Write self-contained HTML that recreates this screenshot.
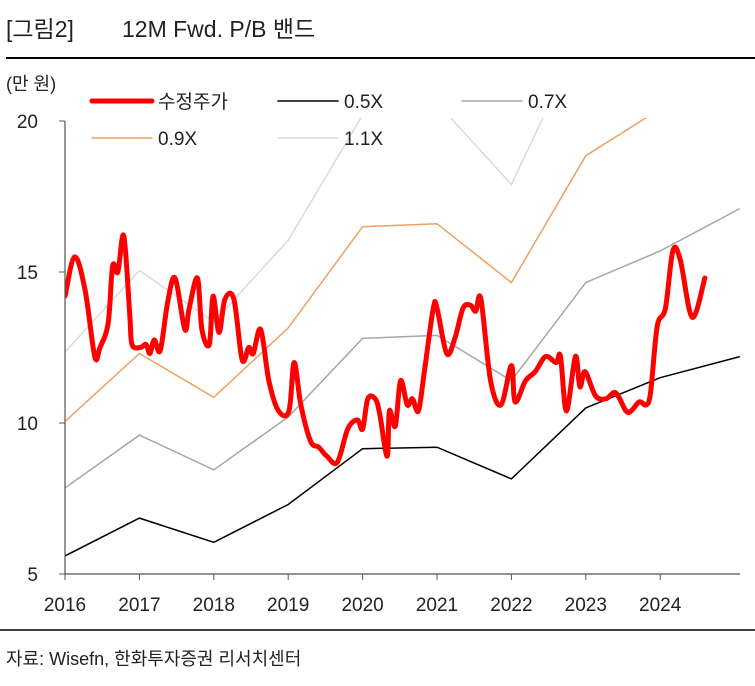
<!DOCTYPE html>
<html><head><meta charset="utf-8"><style>
body{margin:0;background:#fff;width:755px;height:681px;overflow:hidden;font-family:"Liberation Sans","Noto Sans CJK KR",sans-serif}
svg text{font-family:"Liberation Sans","Noto Sans CJK KR",sans-serif}
</style></head><body>
<svg id="c" width="755" height="681">
<text x="6" y="37" font-size="23" fill="#222">[그림2]</text>
<text x="122" y="37" font-size="23" fill="#222">12M Fwd. P/B 밴드</text>
<line x1="6" y1="58" x2="755" y2="58" stroke="#000" stroke-width="2"/>
<text x="6" y="90" font-size="18" fill="#222">(만 원)</text>
<line x1="0" y1="630" x2="755" y2="630" stroke="#000" stroke-width="1.5"/>
<text x="6" y="665" font-size="18" fill="#222">자료: Wisefn, 한화투자증권 리서치센터</text>
<defs><clipPath id="pc"><rect x="65" y="118" width="690" height="460"/></clipPath></defs>
<g id="bands" clip-path="url(#pc)"></g>
<g id="axes"></g>
<g id="legend"></g>
</svg>
<script>
const bandYears=[2016,2017,2018,2019,2020,2021,2022,2023,2024,2025.07];
const band05=[5.6,6.85,6.05,7.3,9.15,9.2,8.15,10.5,11.5,12.2];
const band07=[7.85,9.6,8.45,10.2,12.8,12.9,11.4,14.65,15.7,17.1];
const band09=[10.05,12.3,10.85,13.15,16.5,16.6,14.65,18.85,20.4,21.9];
const band11=[12.35,15.05,13.35,16.05,20.2,20.6,17.9,23.1,25,26.5];
const priceYears=[2016,2016.13,2016.27,2016.4,2016.47,2016.58,2016.64,2016.71,2016.79,2016.87,2016.9,2017.01,2017.09,2017.14,2017.2,2017.28,2017.38,2017.48,2017.61,2017.67,2017.78,2017.84,2017.94,2017.99,2018.07,2018.15,2018.27,2018.38,2018.47,2018.53,2018.63,2018.74,2018.87,2019.01,2019.08,2019.17,2019.3,2019.41,2019.52,2019.66,2019.8,2019.93,2020,2020.07,2020.17,2020.23,2020.33,2020.36,2020.44,2020.51,2020.6,2020.67,2020.75,2020.83,2020.95,2021,2021.13,2021.24,2021.35,2021.45,2021.52,2021.59,2021.72,2021.86,2022,2022.05,2022.19,2022.32,2022.46,2022.6,2022.66,2022.74,2022.86,2022.92,2022.99,2023.13,2023.27,2023.4,2023.54,2023.61,2023.72,2023.81,2023.87,2023.96,2024.07,2024.17,2024.27,2024.43,2024.6];
const priceVals=[14.2,15.5,14.4,12.2,12.5,13.3,15.2,15.0,16.2,13.6,12.6,12.5,12.6,12.3,12.75,12.4,14.0,14.8,13.1,13.8,14.8,13.1,12.6,14.2,13.0,14.1,14.1,12.1,12.5,12.3,13.1,11.4,10.4,10.4,12.0,10.6,9.4,9.2,8.9,8.7,9.8,10.1,9.8,10.8,10.8,10.3,8.9,10.4,9.9,11.4,10.6,10.8,10.4,11.7,13.8,13.8,12.3,12.8,13.8,13.9,13.7,14.1,11.4,10.6,11.9,10.7,11.4,11.7,12.2,12.0,12.2,10.4,12.2,11.2,11.7,10.9,10.8,11.0,10.4,10.4,10.7,10.6,11.0,13.2,13.8,15.7,15.4,13.5,14.8];
const yTicks=[5,10,15,20];
const xTicks=[2016,2017,2018,2019,2020,2021,2022,2023,2024];
const X=v=>65+(v-2016)*74.4, Y=v=>574-(v-5)*30.2;
const NS='http://www.w3.org/2000/svg';
function mk(tag,at,parent){const e=document.createElementNS(NS,tag);for(const k in at)e.setAttribute(k,at[k]);parent.appendChild(e);return e;}
const bands=document.getElementById('bands'),axes=document.getElementById('axes'),legend=document.getElementById('legend');
const series=[[band11,'#d9d9d9','band-1-1x'],[band09,'#f0a060','band-0-9x'],[band07,'#a6a6a6','band-0-7x'],[band05,'#000','band-0-5x']];
series.forEach(s=>{
 const d=s[0].map((v,i)=>(i?'L':'M')+X(bandYears[i]).toFixed(1)+','+Y(v).toFixed(1)).join('');
 const p=mk('path',{d:d,fill:'none',stroke:s[1],'stroke-width':1.5},bands);
 
 
});
const pts=priceVals.map((v,i)=>[X(priceYears[i]),Y(v)]);
let d='M'+pts[0][0]+','+pts[0][1];
for(let i=0;i<pts.length-1;i++){const p0=pts[i-1]||pts[i],p1=pts[i],p2=pts[i+1],p3=pts[i+2]||p2;
 const c1=[p1[0]+(p2[0]-p0[0])/6,p1[1]+(p2[1]-p0[1])/6],c2=[p2[0]-(p3[0]-p1[0])/6,p2[1]-(p3[1]-p1[1])/6];
 d+='C'+c1.join(',')+' '+c2.join(',')+' '+p2.join(',');}
const rp=mk('path',{d:d,fill:'none',stroke:'#ff0000','stroke-width':5,'stroke-linejoin':'round','stroke-linecap':'round'},bands);


const ya=mk('line',{x1:65,y1:121,x2:65,y2:574,stroke:'#555','stroke-width':1.2},axes);


const xa=mk('line',{x1:65,y1:574,x2:740,y2:574,stroke:'#555','stroke-width':1.2},axes);


yTicks.forEach(v=>{
 mk('line',{x1:59,y1:Y(v),x2:65,y2:Y(v),stroke:'#555'},axes);
 const t=mk('text',{x:38,y:Y(v)+7,'font-size':19,'text-anchor':'end',fill:'#222'},axes);t.textContent=v;
 
 
});
xTicks.forEach(v=>{
 mk('line',{x1:X(v),y1:574,x2:X(v),y2:580,stroke:'#555'},axes);
 const t=mk('text',{x:X(v),y:611,'font-size':19,'text-anchor':'middle',fill:'#222'},axes);t.textContent=v;
 
 
});
const leg=[[92,101,'#ff0000',5,'수정주가','legend-price'],[278,101,'#000',1.5,'0.5X','legend-0-5x'],[462,101,'#a6a6a6',1.5,'0.7X','legend-0-7x'],[92,138,'#f0a060',1.5,'0.9X','legend-0-9x'],[278,138,'#d9d9d9',1.5,'1.1X','legend-1-1x']];
leg.forEach(l=>{
 const g=mk('g',{},legend);
 
 
 mk('line',{x1:l[0],y1:l[1],x2:l[0]+60,y2:l[1],stroke:l[2],'stroke-width':l[3],'stroke-linecap':'round'},g);
 const t=mk('text',{x:l[0]+66,y:l[1]+7,'font-size':19,fill:'#222'},g);t.textContent=l[4];
});
</script>
</body></html>
